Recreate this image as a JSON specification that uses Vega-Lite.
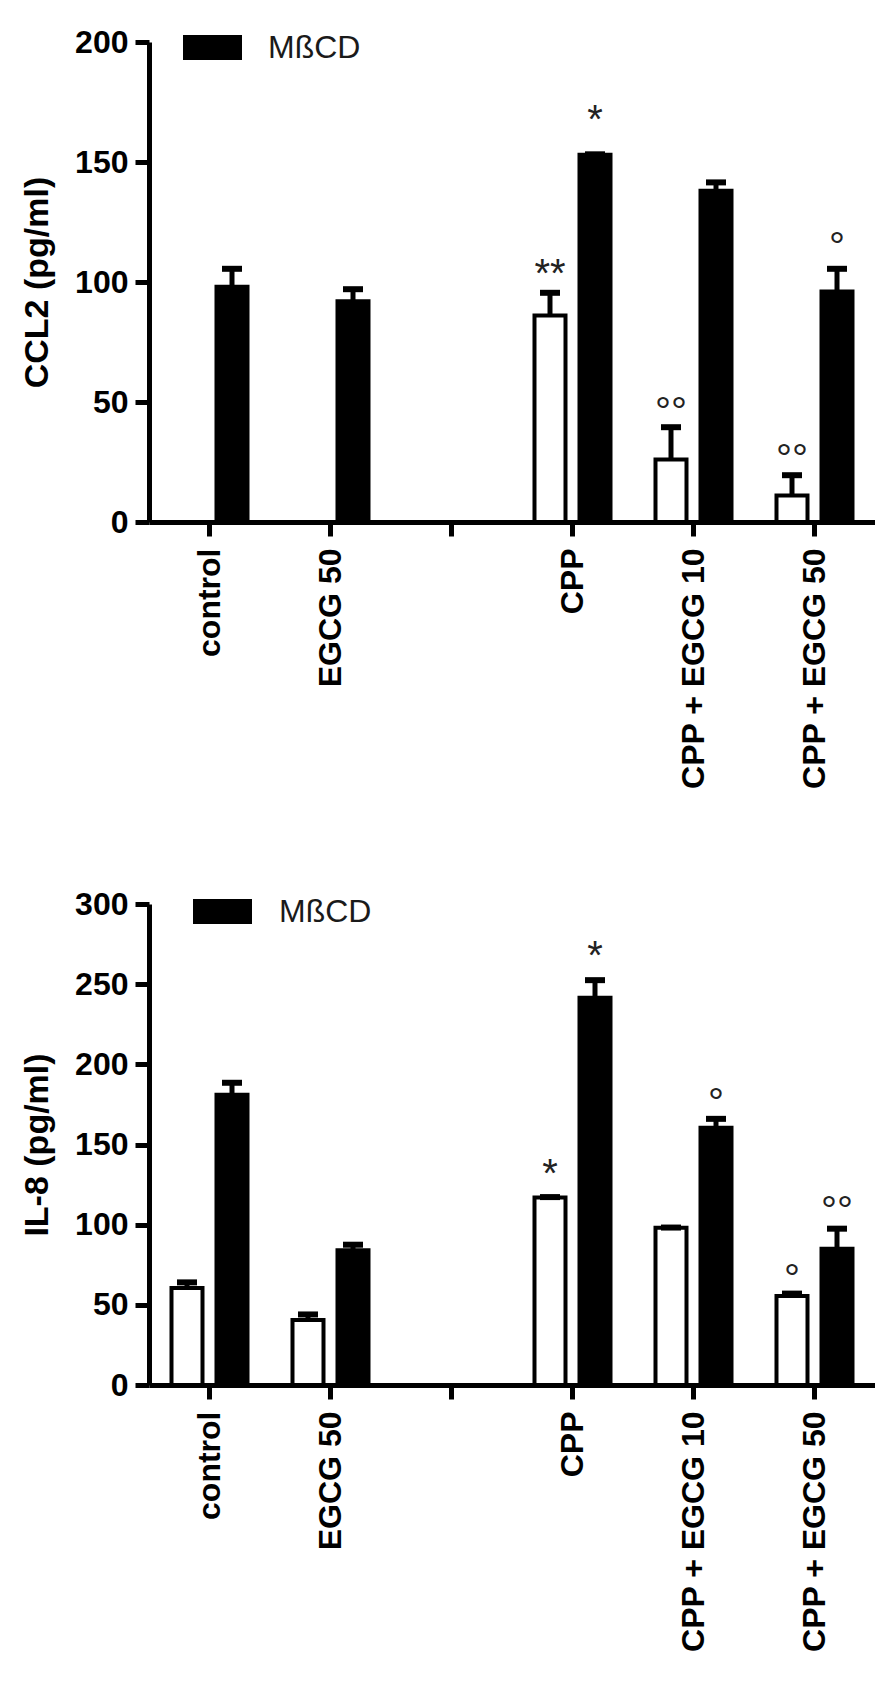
{
  "$schema": "https://vega.github.io/schema/vega-lite/v6.json",
  "padding": {"left": 20, "top": 18, "right": 0, "bottom": 0},
  "spacing": 93,
  "datasets": {
    "ccl2": [
      {"group": "control", "treat": "MßCD", "value": 98, "err": 105.5},
      {"group": "EGCG 50", "treat": "MßCD", "value": 92, "err": 97},
      {"group": "CPP", "treat": "none", "value": 86, "err": 95.5, "sig": "**", "sigY": 98},
      {"group": "CPP", "treat": "MßCD", "value": 153, "err": 153.2, "sig": "*", "sigY": 162},
      {"group": "CPP + EGCG 10", "treat": "none", "value": 26, "err": 39.5, "sig": "°°", "sigY": 40.5},
      {"group": "CPP + EGCG 10", "treat": "MßCD", "value": 138, "err": 141.5},
      {"group": "CPP + EGCG 50", "treat": "none", "value": 11, "err": 19.5, "sig": "°°", "sigY": 21},
      {"group": "CPP + EGCG 50", "treat": "MßCD", "value": 96, "err": 105.5, "sig": "°", "sigY": 109}
    ],
    "il8": [
      {"group": "control", "treat": "none", "value": 60.5, "err": 64},
      {"group": "control", "treat": "MßCD", "value": 181, "err": 188.5},
      {"group": "EGCG 50", "treat": "none", "value": 40.5, "err": 44},
      {"group": "EGCG 50", "treat": "MßCD", "value": 84, "err": 87.5},
      {"group": "CPP", "treat": "none", "value": 117, "err": 117.2, "sig": "*", "sigY": 123.5},
      {"group": "CPP", "treat": "MßCD", "value": 241.5, "err": 252.5, "sig": "*", "sigY": 259.5},
      {"group": "CPP + EGCG 10", "treat": "none", "value": 98, "err": 98.2},
      {"group": "CPP + EGCG 10", "treat": "MßCD", "value": 160.5, "err": 166, "sig": "°", "sigY": 168},
      {"group": "CPP + EGCG 50", "treat": "none", "value": 55.5, "err": 57, "sig": "°", "sigY": 58},
      {"group": "CPP + EGCG 50", "treat": "MßCD", "value": 85, "err": 97.5, "sig": "°°", "sigY": 100.5}
    ]
  },
  "vconcat": [
    {
      "width": 726,
      "height": 480,
      "data": {"name": "ccl2"},
      "encoding": {
        "x": {
          "field": "group",
          "type": "nominal",
          "scale": {
            "domain": ["control", "EGCG 50", " ", "CPP", "CPP + EGCG 10", "CPP + EGCG 50"],
            "paddingInner": 0,
            "paddingOuter": 0
          },
          "axis": {"title": null}
        },
        "xOffset": {
          "field": "treat",
          "type": "nominal",
          "scale": {"domain": ["none", "MßCD"], "paddingInner": 0.311, "paddingOuter": 0.5}
        },
        "y": {
          "field": "value",
          "type": "quantitative",
          "scale": {"domain": [0, 200]},
          "axis": {"values": [0, 50, 100, 150, 200], "title": "CCL2 (pg/ml)"}
        }
      },
      "layer": [
        {
          "mark": {"type": "bar", "stroke": "black", "strokeWidth": 4},
          "encoding": {
            "color": {
              "field": "treat",
              "type": "nominal",
              "scale": {"domain": ["none", "MßCD"], "range": ["white", "black"]},
              "legend": {
                "orient": "none",
                "legendX": 34,
                "legendY": -24,
                "values": ["MßCD"],
                "title": null,
                "padding": 0,
                "symbolType": "M-1,-0.424H1V0.424H-1Z",
                "symbolSize": 3481,
                "symbolStrokeWidth": 0,
                "symbolOpacity": 1,
                "labelFont": "Liberation Sans",
                "labelFontSize": 32,
                "labelColor": "#1a1a1a",
                "labelOffset": 26
              }
            }
          }
        },
        {
          "mark": {"type": "rule", "strokeWidth": 5, "color": "black"},
          "encoding": {"y2": {"field": "err"}}
        },
        {
          "mark": {"type": "tick", "size": 20, "thickness": 6, "color": "black", "opacity": 1},
          "encoding": {"y": {"field": "err", "type": "quantitative"}}
        },
        {
          "transform": [{"filter": "datum.sig != null"}],
          "mark": {"type": "text", "font": "Liberation Sans", "fontSize": 40, "baseline": "alphabetic", "color": "#222"},
          "encoding": {
            "y": {"field": "sigY", "type": "quantitative"},
            "text": {"field": "sig"}
          }
        }
      ]
    },
    {
      "width": 726,
      "height": 481,
      "data": {"name": "il8"},
      "encoding": {
        "x": {
          "field": "group",
          "type": "nominal",
          "scale": {
            "domain": ["control", "EGCG 50", " ", "CPP", "CPP + EGCG 10", "CPP + EGCG 50"],
            "paddingInner": 0,
            "paddingOuter": 0
          },
          "axis": {"title": null}
        },
        "xOffset": {
          "field": "treat",
          "type": "nominal",
          "scale": {"domain": ["none", "MßCD"], "paddingInner": 0.311, "paddingOuter": 0.5}
        },
        "y": {
          "field": "value",
          "type": "quantitative",
          "scale": {"domain": [0, 300]},
          "axis": {"values": [0, 50, 100, 150, 200, 250, 300], "title": "IL-8 (pg/ml)"}
        }
      },
      "layer": [
        {
          "mark": {"type": "bar", "stroke": "black", "strokeWidth": 4},
          "encoding": {
            "color": {
              "field": "treat",
              "type": "nominal",
              "scale": {"domain": ["none", "MßCD"], "range": ["white", "black"]},
              "legend": {
                "orient": "none",
                "legendX": 44,
                "legendY": -22,
                "values": ["MßCD"],
                "title": null,
                "padding": 0,
                "symbolType": "M-1,-0.424H1V0.424H-1Z",
                "symbolSize": 3481,
                "symbolStrokeWidth": 0,
                "symbolOpacity": 1,
                "labelFont": "Liberation Sans",
                "labelFontSize": 32,
                "labelColor": "#1a1a1a",
                "labelOffset": 27
              }
            }
          }
        },
        {
          "mark": {"type": "rule", "strokeWidth": 5, "color": "black"},
          "encoding": {"y2": {"field": "err"}}
        },
        {
          "mark": {"type": "tick", "size": 20, "thickness": 6, "color": "black", "opacity": 1},
          "encoding": {"y": {"field": "err", "type": "quantitative"}}
        },
        {
          "transform": [{"filter": "datum.sig != null"}],
          "mark": {"type": "text", "font": "Liberation Sans", "fontSize": 40, "baseline": "alphabetic", "color": "#222"},
          "encoding": {
            "y": {"field": "sigY", "type": "quantitative"},
            "text": {"field": "sig"}
          }
        }
      ]
    }
  ],
  "resolve": {
    "scale": {"color": "independent", "y": "independent"},
    "legend": {"color": "independent"}
  },
  "config": {
    "view": {"stroke": null},
    "axis": {
      "grid": false,
      "domainColor": "black",
      "domainWidth": 5,
      "tickColor": "black",
      "tickWidth": 5,
      "tickSize": 14,
      "labelFont": "Liberation Sans",
      "labelFontWeight": "bold",
      "labelFontSize": 32,
      "labelColor": "black",
      "labelLimit": 400,
      "titleFont": "Liberation Sans",
      "titleFontWeight": "bold",
      "titleFontSize": 34,
      "titleColor": "black"
    },
    "axisX": {"labelAngle": -90, "labelPadding": 12},
    "axisY": {"labelPadding": 7, "titlePadding": 20}
  }
}
